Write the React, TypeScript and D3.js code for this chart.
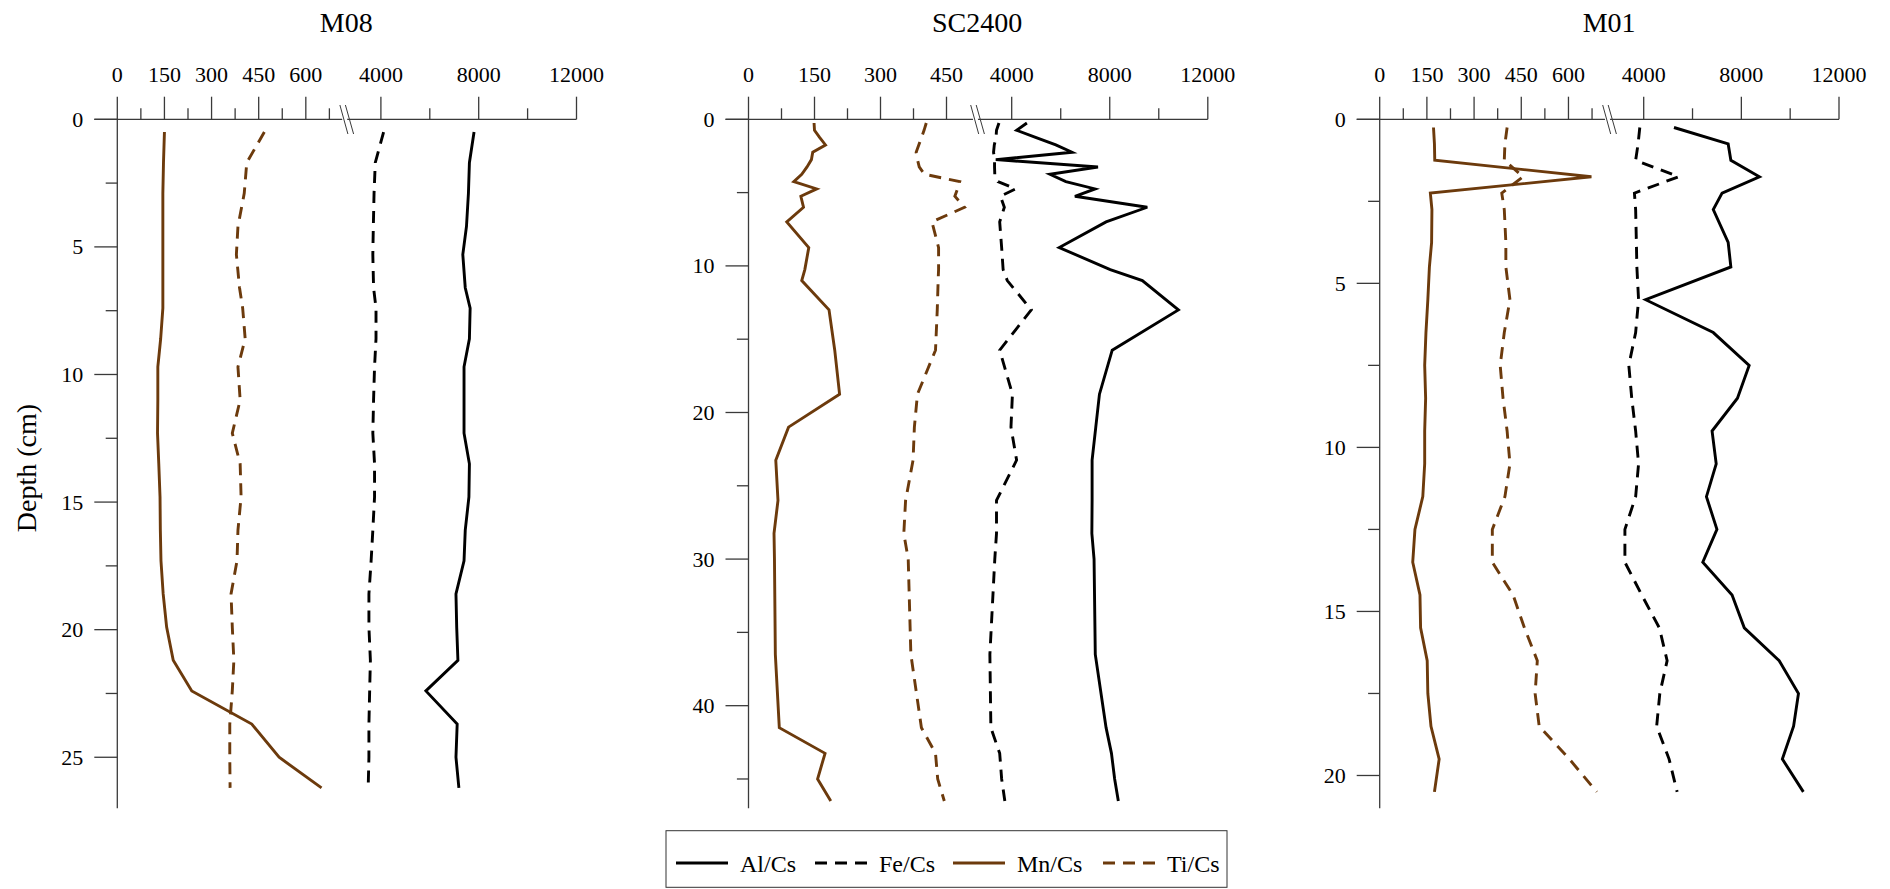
import React from 'react';
import * as d3 from 'd3';

// ---------- DATA ----------
const seriesNames = ['Al/Cs', 'Fe/Cs', 'Mn/Cs', 'Ti/Cs'];

const m08Depth = [0.5, 1.7, 2.9, 4.2, 5.3, 6.6, 7.4, 8.6, 9.7, 11.0, 12.3, 13.5, 14.8, 16.1, 17.3, 18.6, 19.9, 21.2, 22.4, 23.7, 25.0, 26.2];
const m08Al = [7810, 7620, 7580, 7500, 7350, 7450, 7650, 7620, 7400, 7400, 7400, 7620, 7600, 7450, 7400, 7070, 7100, 7150, 5840, 7120, 7070, 7190];
const m08Fe = [4110, 3770, 3720, 3690, 3670, 3700, 3800, 3800, 3740, 3700, 3670, 3740, 3740, 3670, 3600, 3510, 3510, 3570, 3540, 3510, 3510, 3480];
const m08Mn = [150, 147, 145, 145, 145, 145, 145, 138, 129, 129, 128, 132, 136, 137, 139, 146, 157, 178, 237, 428, 515, 650];
const m08Ti = [468, 412, 404, 384, 379, 389, 399, 407, 384, 391, 366, 391, 394, 384, 381, 362, 366, 371, 366, 358, 358, 359];

const scDepth = [0.25, 0.75, 1.25, 1.75, 2.25, 2.75, 3.25, 3.75, 4.25, 4.75, 5.25, 6.0, 7.0, 8.75, 10.25, 11.0, 13.0, 15.75, 18.75, 21.0, 23.25, 26.0, 28.25, 30.0, 36.5, 41.5, 43.25, 45.0, 46.5];
const scAl = [4620, 4200, 5000, 5800, 6460, 3350, 7520, 5560, 6210, 7400, 6580, 9530, 7850, 5940, 8020, 9330, 10800, 8100, 7580, 7430, 7280, 7280, 7270, 7360, 7410, 7850, 8070, 8200, 8350];
const scFe = [3480, 3380, 3360, 3290, 3260, 3300, 3300, 3310, 3440, 4160, 3540, 3700, 3510, 3590, 3650, 3820, 4800, 3510, 4030, 3970, 4200, 3380, 3380, 3310, 3110, 3150, 3510, 3590, 3720];
const scMn = [149, 150, 162, 175, 146, 143, 133, 121, 103, 155, 119, 125, 87, 137, 128, 121, 183, 196, 207, 91, 62, 67, 58, 59, 61, 70, 174, 157, 187];
const scTi = [404, 399, 393, 387, 381, 384, 388, 400, 480, 475, 469, 491, 417, 432, 432, 431, 429, 425, 384, 377, 374, 357, 353, 363, 369, 393, 425, 430, 445];

const m01Depth = [0.25, 0.75, 1.25, 1.75, 2.25, 2.75, 3.75, 4.5, 5.5, 6.5, 7.5, 8.5, 9.5, 10.5, 11.5, 12.5, 13.5, 14.5, 15.5, 16.5, 17.5, 18.5, 19.5, 20.5];
const m01Al = [5240, 7460, 7570, 8740, 7210, 6850, 7460, 7570, 4080, 6850, 8320, 7840, 6800, 6970, 6570, 7000, 6420, 7620, 8120, 9550, 10340, 10140, 9680, 10540];
const m01Fe = [3840, 3770, 3670, 5430, 3620, 3670, 3700, 3720, 3790, 3670, 3390, 3510, 3670, 3790, 3670, 3230, 3230, 3920, 4640, 4960, 4660, 4530, 5040, 5370];
const m01Mn = [171, 174, 175, 673, 161, 166, 165, 158, 153, 147, 143, 146, 143, 143, 137, 112, 105, 128, 130, 151, 153, 163, 189, 174];
const m01Ti = [405, 398, 396, 456, 388, 396, 401, 401, 414, 396, 383, 392, 405, 414, 398, 358, 358, 424, 460, 501, 494, 507, 603, 690];

const lowerTicks600 = [0, 150, 300, 450, 600];
const lowerMinor600 = [75, 225, 375, 525, 675];
const lowerTicks450 = [0, 150, 300, 450];
const lowerMinor450 = [75, 225, 375];
const upperTicks = [4000, 8000, 12000];
const upperMinor = [6000, 10000];

// ---------- STYLE / LAYOUT ----------
const FONT = "'Liberation Serif', 'Times New Roman', Times, serif";
const BROWN = '#6c3a0c';
const AXIS = '#3a3a3a';
const AXIS_Y = 119.3;
const Y_BOTTOM = 808.3;

type Panel = {
  title: string;
  depth: number[];
  al: number[]; fe: number[]; mn: number[]; ti: number[];
  x0: number; lowerMax: number; lowerK: number;
  lowerTicks: number[]; lowerMinor: number[];
  x4000: number; x12000: number;
  yMax: number; yStep: number;
};

const panels: Panel[] = [
  { title: 'M08', depth: m08Depth, al: m08Al, fe: m08Fe, mn: m08Mn, ti: m08Ti,
    x0: 117.3, lowerMax: 600, lowerK: 0.3142, lowerTicks: lowerTicks600, lowerMinor: lowerMinor600,
    x4000: 380.9, x12000: 576.5, yMax: 27, yStep: 5 },
  { title: 'SC2400', depth: scDepth, al: scAl, fe: scFe, mn: scMn, ti: scTi,
    x0: 748.5, lowerMax: 450, lowerK: 0.44, lowerTicks: lowerTicks450, lowerMinor: lowerMinor450,
    x4000: 1011.7, x12000: 1207.8, yMax: 47, yStep: 10 },
  { title: 'M01', depth: m01Depth, al: m01Al, fe: m01Fe, mn: m01Mn, ti: m01Ti,
    x0: 1379.7, lowerMax: 600, lowerK: 0.3146, lowerTicks: lowerTicks600, lowerMinor: lowerMinor600,
    x4000: 1643.7, x12000: 1839, yMax: 21, yStep: 5 },
];

const seriesStyle: Record<string, { color: string; dash?: string }> = {
  'Al/Cs': { color: '#000' },
  'Fe/Cs': { color: '#000', dash: '12 8' },
  'Mn/Cs': { color: BROWN },
  'Ti/Cs': { color: BROWN, dash: '12 8' },
};

const txt = (size: number): React.CSSProperties => ({ fontFamily: FONT, fontSize: size, fill: '#000' });

function PanelView({ p, showYLabel }: { p: Panel; showYLabel: boolean }) {
  const xl = d3.scaleLinear().domain([0, p.lowerMax]).range([p.x0, p.x0 + p.lowerMax * p.lowerK]);
  const xu = d3.scaleLinear().domain([4000, 12000]).range([p.x4000, p.x12000]);
  const y = d3.scaleLinear().domain([0, p.yMax]).range([AXIS_Y, Y_BOTTOM]);
  const yMajor = d3.range(0, p.yMax + 0.001, p.yStep);
  const yMinor = d3.range(p.yStep / 2, p.yMax, p.yStep);
  const axisLeft = p.x0 - 23;
  const bc = p.x4000;

  const mk = (vals: number[], sx: d3.ScaleLinear<number, number>) =>
    d3.line<number>().x((v) => sx(v)).y((_, i) => y(p.depth[i]))(vals) || '';

  const paths: { name: string; d: string }[] = [
    { name: 'Mn/Cs', d: mk(p.mn, xl) },
    { name: 'Ti/Cs', d: mk(p.ti, xl) },
    { name: 'Fe/Cs', d: mk(p.fe, xu) },
    { name: 'Al/Cs', d: mk(p.al, xu) },
  ];

  return (
    <g>
      <text x={bc - 34.6} y={31.7} textAnchor="middle" style={txt(28)}>{p.title}</text>
      <line x1={axisLeft} x2={p.x12000} y1={AXIS_Y} y2={AXIS_Y} stroke={AXIS} strokeWidth={1.3} />
      {p.lowerTicks.map((t) => (
        <g key={'lt' + t}>
          <line x1={xl(t)} x2={xl(t)} y1={AXIS_Y} y2={AXIS_Y - 22.6} stroke={AXIS} strokeWidth={1.3} />
          <text x={xl(t)} y={81.7} textAnchor="middle" style={txt(22)}>{t}</text>
        </g>
      ))}
      {p.lowerMinor.map((t) => (
        <line key={'lm' + t} x1={xl(t)} x2={xl(t)} y1={AXIS_Y} y2={AXIS_Y - 11} stroke={AXIS} strokeWidth={1.3} />
      ))}
      {upperTicks.map((t) => (
        <g key={'ut' + t}>
          <line x1={xu(t)} x2={xu(t)} y1={AXIS_Y} y2={AXIS_Y - 22.6} stroke={AXIS} strokeWidth={1.3} />
          <text x={xu(t)} y={81.7} textAnchor="middle" style={txt(22)}>{t}</text>
        </g>
      ))}
      {upperMinor.map((t) => (
        <line key={'um' + t} x1={xu(t)} x2={xu(t)} y1={AXIS_Y} y2={AXIS_Y - 11} stroke={AXIS} strokeWidth={1.3} />
      ))}
      <polygon points={`${bc - 39.5},${AXIS_Y - 5} ${bc - 34.5},${AXIS_Y - 5} ${bc - 33},${AXIS_Y + 5} ${bc - 38},${AXIS_Y + 5}`} fill="#fff" />
      <line x1={bc - 41} y1={105} x2={bc - 33} y2={134} stroke={AXIS} strokeWidth={1} />
      <line x1={bc - 35.5} y1={105} x2={bc - 27.3} y2={134} stroke={AXIS} strokeWidth={1} />
      <line x1={p.x0} x2={p.x0} y1={AXIS_Y} y2={Y_BOTTOM} stroke={AXIS} strokeWidth={1.3} />
      {yMajor.map((t) => (
        <g key={'ym' + t}>
          <line x1={p.x0 - 23} x2={p.x0} y1={y(t)} y2={y(t)} stroke={AXIS} strokeWidth={1.3} />
          <text x={p.x0 - 34} y={y(t) + 7.6} textAnchor="end" style={txt(22)}>{t}</text>
        </g>
      ))}
      {yMinor.map((t) => (
        <line key={'yn' + t} x1={p.x0 - 11.6} x2={p.x0} y1={y(t)} y2={y(t)} stroke={AXIS} strokeWidth={1.3} />
      ))}
      {showYLabel && (
        <text transform="translate(36,468) rotate(-90)" textAnchor="middle" style={txt(28)}>Depth (cm)</text>
      )}
      {paths.map((s) => (
        <path key={s.name} d={s.d} fill="none" stroke={seriesStyle[s.name].color}
          strokeWidth={2.9} strokeDasharray={seriesStyle[s.name].dash} strokeLinejoin="miter" />
      ))}
    </g>
  );
}

function Legend() {
  const itemX = [676, 815, 953, 1103];
  const ly = 863;
  return (
    <g>
      <rect x={666} y={830.7} width={561} height={56.6} fill="#fff" stroke="#333" strokeWidth={1} />
      {seriesNames.map((n, i) => (
        <g key={n}>
          <line x1={itemX[i]} x2={itemX[i] + 52} y1={ly} y2={ly} stroke={seriesStyle[n].color}
            strokeWidth={3} strokeDasharray={seriesStyle[n].dash ? '12 8' : undefined} />
          <text x={itemX[i] + 64} y={ly + 8.5} style={txt(24)}>{n}</text>
        </g>
      ))}
    </g>
  );
}

export default function App() {
  return (
    <svg width={1890} height={889} style={{ position: 'absolute', left: 0, top: 0, background: '#fff' }}>
      <rect x={0} y={0} width={1890} height={889} fill="#fff" />
      {panels.map((p, i) => (
        <PanelView key={p.title} p={p} showYLabel={i === 0} />
      ))}
      <Legend />
    </svg>
  );
}
